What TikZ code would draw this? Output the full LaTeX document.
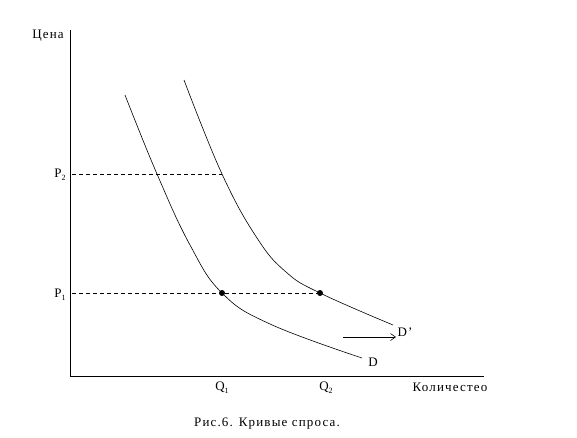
\documentclass[tikz,border=0pt]{standalone}
\usepackage{fontspec}
\setmainfont{Liberation Serif}[LetterSpace=9]
\usetikzlibrary{arrows.meta}
\begin{document}
\begin{tikzpicture}[x=1pt,y=-1pt,
  lbl/.style={inner sep=0pt,font=\fontsize{13}{15}\selectfont},
  axis/.style={line width=0.9pt},
  curve/.style={line width=0.6pt},
  guide/.style={dashed,dash pattern=on 4pt off 3pt,line width=0.6pt},
  pt/.style={circle,fill=black,inner sep=0pt,minimum size=6pt}]
\useasboundingbox (0,0) rectangle (577,437);
% axes
\coordinate (top) at (70,30);
\coordinate (origin) at (70,376);
\coordinate (right) at (484,376);
\draw[axis] (top) -- (origin) -- (right);
% curves
\draw[curve] plot[smooth,tension=0.7] coordinates {(125,95) (157,174) (190,245) (222,293) (270,324) (362,358)};
\draw[curve] plot[smooth,tension=0.7] coordinates {(184,80) (222,174) (257,238) (286,272) (320,293) (393,325)};
% points
\node[pt] (a) at (222,293) {};
\node[pt] (b) at (320,293) {};
\coordinate (p1) at (72,293);
\coordinate (p2) at (72,174);
\coordinate (c) at (222,174);
\draw[guide] (p1) -- (a) -- (b);
\draw[guide] (p2) -- (c);
% labels
\node[lbl] (cena) at (48,36) {Цена};
\node[lbl] (P2) at (60,175) {P\raisebox{-0.45ex}{\fontsize{8}{9}\selectfont 2}};
\node[lbl] (P1) at (60,295) {P\raisebox{-0.45ex}{\fontsize{8}{9}\selectfont 1}};
\node[lbl] (Q1) at (222,388) {Q\raisebox{-0.45ex}{\fontsize{8}{9}\selectfont 1}};
\node[lbl] (Q2) at (326,388) {Q\raisebox{-0.45ex}{\fontsize{8}{9}\selectfont 2}};
\node[lbl] (kol) at (450,387) {Количестео};
\node[lbl] (D) at (373,362) {D};
\node[lbl] (Dp) at (405,332) {D’};
\node[lbl] (cap) at (267,424) {Рис.6. Кривые спроса.};
% shift arrow
\coordinate (s1) at (343,337);
\coordinate (s2) at (396,337);
\draw[line width=0.6pt,-{Straight Barb[length=5pt,width=7pt]}] (s1) -- (s2);
\end{tikzpicture}
\end{document}
